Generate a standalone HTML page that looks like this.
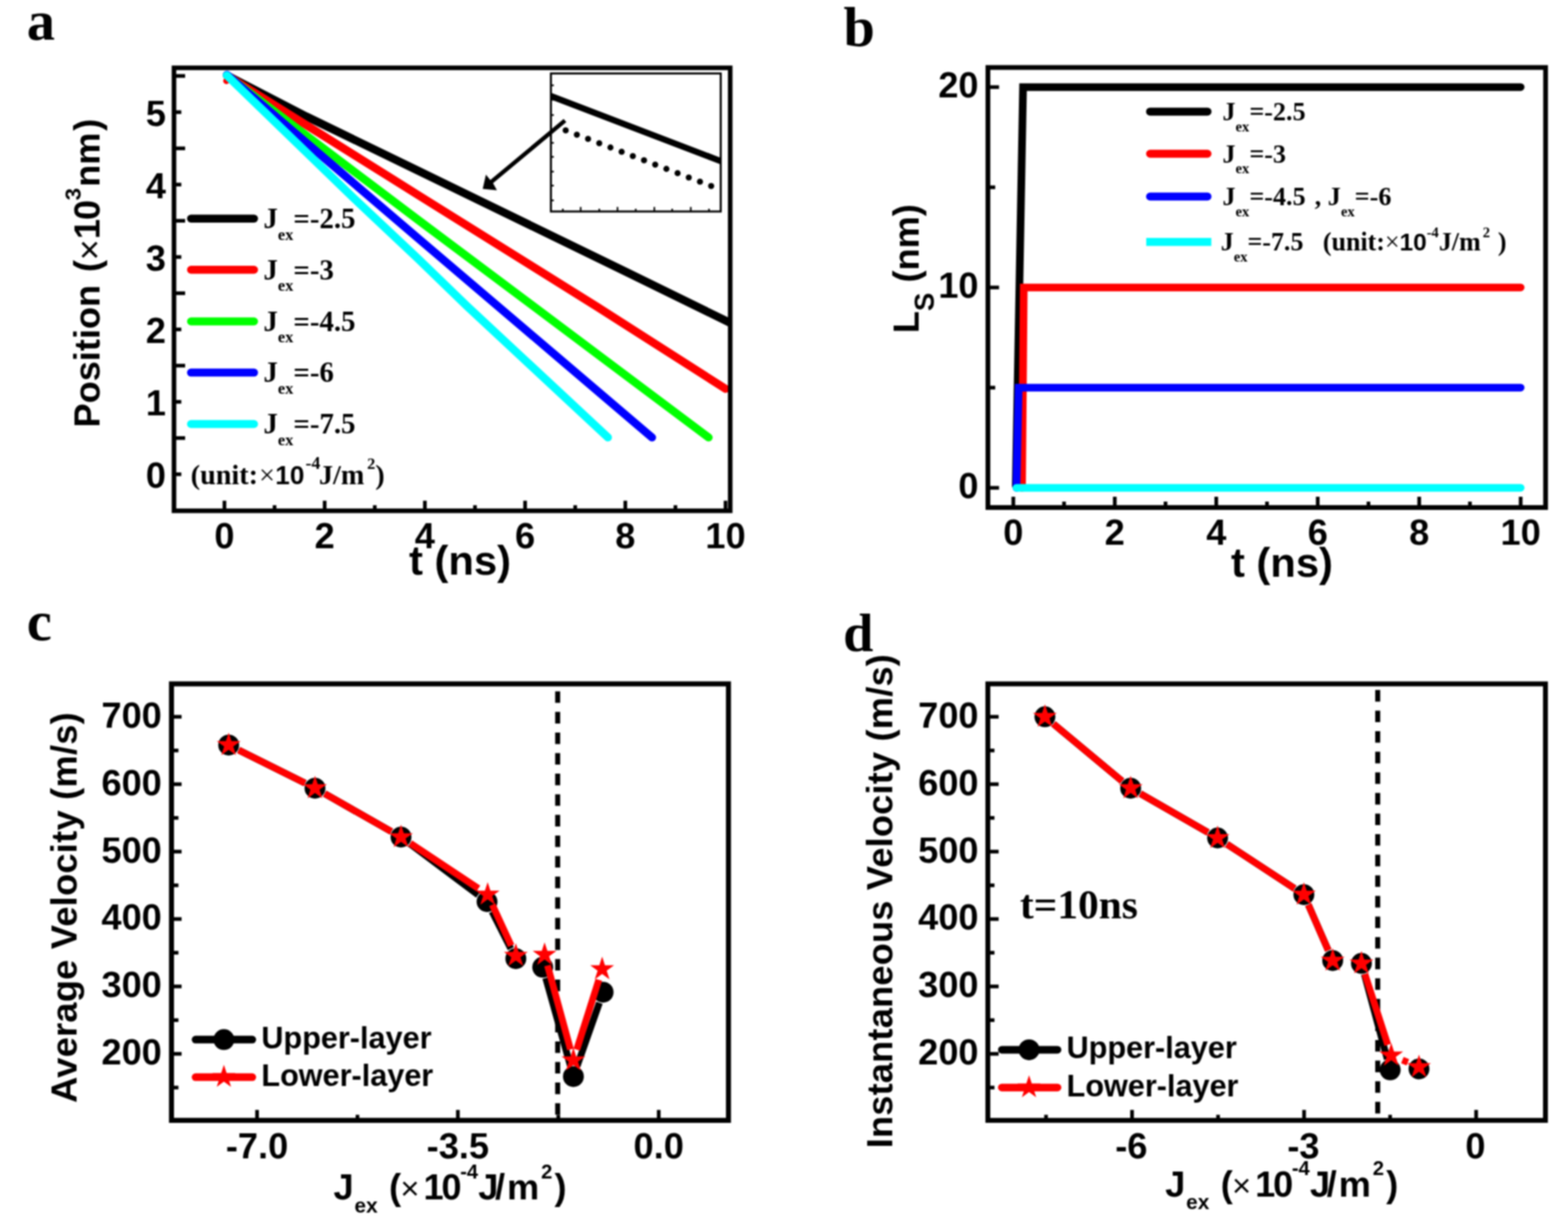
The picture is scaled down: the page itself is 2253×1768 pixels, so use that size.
<!DOCTYPE html>
<html lang="en">
<head>
<meta charset="utf-8">
<title>Figure: domain wall position, skyrmion length and velocity versus exchange coupling</title>
<style>
html, body { margin: 0; padding: 0; background: #fff; }
body { width: 2253px; height: 1768px; overflow: hidden; }
svg { display: block; }
text { font-weight: bold; fill: #000; }
.s { font-family: "Liberation Sans", sans-serif; }
.r { font-family: "Liberation Serif", serif; }
</style>
</head>
<body>
<svg width="2253" height="1768" viewBox="0 0 2253 1768">
<defs><filter id="soft" x="0" y="0" width="100%" height="100%" filterUnits="userSpaceOnUse" color-interpolation-filters="sRGB"><feGaussianBlur stdDeviation="1.0"/></filter></defs>
<rect x="0" y="0" width="2253" height="1768" fill="#fff"/>
<g filter="url(#soft)">
<rect x="0" y="0" width="2253" height="1768" fill="#fff"/>
<g id="panel-a">
<clipPath id="clipA"><rect x="250.0" y="97.5" width="799.2" height="636.7"/></clipPath>
<g clip-path="url(#clipA)">
<circle cx="325.30" cy="116.30" r="4.6" fill="#f00"/>
<polyline points="326.00,108.30 440.00,167.30 600.00,245.00 900.00,391.00 1050.00,464.50" fill="none" stroke="#000" stroke-width="11.6" stroke-linecap="round" stroke-linejoin="round"/>
<polyline points="326.00,108.30 600.00,279.80 858.00,441.00 1042.50,558.90" fill="none" stroke="#f00" stroke-width="11.6" stroke-linecap="round" stroke-linejoin="round"/>
<polyline points="326.00,108.30 600.00,315.50 1018.20,628.80" fill="none" stroke="#0f0" stroke-width="11.6" stroke-linecap="round" stroke-linejoin="round"/>
<polyline points="326.00,107.50 600.00,341.80 936.90,628.80" fill="none" stroke="#00f" stroke-width="11.6" stroke-linecap="round" stroke-linejoin="round"/>
<polyline points="326.00,108.30 507.00,283.60 600.00,371.30 671.00,440.00 873.50,628.80" fill="none" stroke="#0ff" stroke-width="11.6" stroke-linecap="round" stroke-linejoin="round"/>
</g>
<rect x="791.6" y="105.6" width="243.9999999999999" height="198.4" fill="#fff" stroke="#000" stroke-width="2.9"/>
<clipPath id="clipI"><rect x="791.6" y="105.6" width="243.9999999999999" height="198.4"/></clipPath>
<g clip-path="url(#clipI)">
<line x1="786.60" y1="136.20" x2="1040.60" y2="233.50" stroke="#000" stroke-width="9" stroke-linecap="butt" />
</g>
<circle cx="812.80" cy="187.40" r="4.4" fill="#000"/>
<circle cx="828.88" cy="193.55" r="4.4" fill="#000"/>
<circle cx="844.96" cy="199.70" r="4.4" fill="#000"/>
<circle cx="861.04" cy="205.85" r="4.4" fill="#000"/>
<circle cx="877.12" cy="212.00" r="4.4" fill="#000"/>
<circle cx="893.20" cy="218.15" r="4.4" fill="#000"/>
<circle cx="909.28" cy="224.30" r="4.4" fill="#000"/>
<circle cx="925.36" cy="230.45" r="4.4" fill="#000"/>
<circle cx="941.44" cy="236.60" r="4.4" fill="#000"/>
<circle cx="957.52" cy="242.75" r="4.4" fill="#000"/>
<circle cx="973.60" cy="248.90" r="4.4" fill="#000"/>
<circle cx="989.68" cy="255.05" r="4.4" fill="#000"/>
<circle cx="1005.76" cy="261.20" r="4.4" fill="#000"/>
<circle cx="1021.84" cy="267.35" r="4.4" fill="#000"/>
<line x1="808.71" y1="304.00" x2="808.71" y2="300.00" stroke="#000" stroke-width="2.3" stroke-linecap="butt" />
<line x1="834.34" y1="304.00" x2="834.34" y2="297.50" stroke="#000" stroke-width="2.3" stroke-linecap="butt" />
<line x1="861.08" y1="304.00" x2="861.08" y2="300.00" stroke="#000" stroke-width="2.3" stroke-linecap="butt" />
<line x1="887.27" y1="304.00" x2="887.27" y2="297.50" stroke="#000" stroke-width="2.3" stroke-linecap="butt" />
<line x1="913.45" y1="304.00" x2="913.45" y2="300.00" stroke="#000" stroke-width="2.3" stroke-linecap="butt" />
<line x1="940.19" y1="304.00" x2="940.19" y2="297.50" stroke="#000" stroke-width="2.3" stroke-linecap="butt" />
<line x1="965.82" y1="304.00" x2="965.82" y2="300.00" stroke="#000" stroke-width="2.3" stroke-linecap="butt" />
<line x1="992.56" y1="304.00" x2="992.56" y2="297.50" stroke="#000" stroke-width="2.3" stroke-linecap="butt" />
<line x1="1018.74" y1="304.00" x2="1018.74" y2="300.00" stroke="#000" stroke-width="2.3" stroke-linecap="butt" />
<line x1="791.60" y1="122.66" x2="795.80" y2="122.66" stroke="#000" stroke-width="2.3" stroke-linecap="butt" />
<line x1="791.60" y1="143.33" x2="795.80" y2="143.33" stroke="#000" stroke-width="2.3" stroke-linecap="butt" />
<line x1="791.60" y1="165.38" x2="795.80" y2="165.38" stroke="#000" stroke-width="2.3" stroke-linecap="butt" />
<line x1="791.60" y1="186.05" x2="795.80" y2="186.05" stroke="#000" stroke-width="2.3" stroke-linecap="butt" />
<line x1="791.60" y1="205.35" x2="795.80" y2="205.35" stroke="#000" stroke-width="2.3" stroke-linecap="butt" />
<line x1="791.60" y1="225.47" x2="795.80" y2="225.47" stroke="#000" stroke-width="2.3" stroke-linecap="butt" />
<line x1="791.60" y1="246.69" x2="795.80" y2="246.69" stroke="#000" stroke-width="2.3" stroke-linecap="butt" />
<line x1="791.60" y1="266.81" x2="795.80" y2="266.81" stroke="#000" stroke-width="2.3" stroke-linecap="butt" />
<line x1="791.60" y1="288.04" x2="795.80" y2="288.04" stroke="#000" stroke-width="2.3" stroke-linecap="butt" />
<line x1="811.80" y1="173.20" x2="703.50" y2="263.50" stroke="#000" stroke-width="6.0" stroke-linecap="butt" />
<polygon points="693.6,271.6 698.2,251.0 704.5,258.8 708.0,262.5 714.0,273.4" fill="#000"/>
<rect x="250.00" y="97.50" width="799.20" height="636.70" fill="none" stroke="#000" stroke-width="6.6"/>
<line x1="250.00" y1="681.70" x2="260.50" y2="681.70" stroke="#000" stroke-width="5.3" stroke-linecap="butt" />
<line x1="250.00" y1="629.65" x2="266.00" y2="629.65" stroke="#000" stroke-width="5.3" stroke-linecap="butt" />
<line x1="250.00" y1="577.60" x2="260.50" y2="577.60" stroke="#000" stroke-width="5.3" stroke-linecap="butt" />
<line x1="250.00" y1="525.55" x2="266.00" y2="525.55" stroke="#000" stroke-width="5.3" stroke-linecap="butt" />
<line x1="250.00" y1="473.50" x2="260.50" y2="473.50" stroke="#000" stroke-width="5.3" stroke-linecap="butt" />
<line x1="250.00" y1="421.45" x2="266.00" y2="421.45" stroke="#000" stroke-width="5.3" stroke-linecap="butt" />
<line x1="250.00" y1="369.40" x2="260.50" y2="369.40" stroke="#000" stroke-width="5.3" stroke-linecap="butt" />
<line x1="250.00" y1="317.35" x2="266.00" y2="317.35" stroke="#000" stroke-width="5.3" stroke-linecap="butt" />
<line x1="250.00" y1="265.30" x2="260.50" y2="265.30" stroke="#000" stroke-width="5.3" stroke-linecap="butt" />
<line x1="250.00" y1="213.25" x2="266.00" y2="213.25" stroke="#000" stroke-width="5.3" stroke-linecap="butt" />
<line x1="250.00" y1="161.20" x2="260.50" y2="161.20" stroke="#000" stroke-width="5.3" stroke-linecap="butt" />
<line x1="250.00" y1="109.15" x2="266.00" y2="109.15" stroke="#000" stroke-width="5.3" stroke-linecap="butt" />
<line x1="322.50" y1="734.20" x2="322.50" y2="719.70" stroke="#000" stroke-width="5.3" stroke-linecap="butt" />
<line x1="394.50" y1="734.20" x2="394.50" y2="726.20" stroke="#000" stroke-width="5.3" stroke-linecap="butt" />
<line x1="466.50" y1="734.20" x2="466.50" y2="719.70" stroke="#000" stroke-width="5.3" stroke-linecap="butt" />
<line x1="538.50" y1="734.20" x2="538.50" y2="726.20" stroke="#000" stroke-width="5.3" stroke-linecap="butt" />
<line x1="610.50" y1="734.20" x2="610.50" y2="719.70" stroke="#000" stroke-width="5.3" stroke-linecap="butt" />
<line x1="682.50" y1="734.20" x2="682.50" y2="726.20" stroke="#000" stroke-width="5.3" stroke-linecap="butt" />
<line x1="754.50" y1="734.20" x2="754.50" y2="719.70" stroke="#000" stroke-width="5.3" stroke-linecap="butt" />
<line x1="826.50" y1="734.20" x2="826.50" y2="726.20" stroke="#000" stroke-width="5.3" stroke-linecap="butt" />
<line x1="898.50" y1="734.20" x2="898.50" y2="719.70" stroke="#000" stroke-width="5.3" stroke-linecap="butt" />
<line x1="970.50" y1="734.20" x2="970.50" y2="726.20" stroke="#000" stroke-width="5.3" stroke-linecap="butt" />
<line x1="1042.50" y1="734.20" x2="1042.50" y2="719.70" stroke="#000" stroke-width="5.3" stroke-linecap="butt" />
<text class="s" x="238.50" y="701.30" font-size="52" text-anchor="end">0</text>
<text class="s" x="238.50" y="597.20" font-size="52" text-anchor="end">1</text>
<text class="s" x="238.50" y="493.10" font-size="52" text-anchor="end">2</text>
<text class="s" x="238.50" y="389.00" font-size="52" text-anchor="end">3</text>
<text class="s" x="238.50" y="284.90" font-size="52" text-anchor="end">4</text>
<text class="s" x="238.50" y="180.80" font-size="52" text-anchor="end">5</text>
<text class="s" x="322.50" y="787.60" font-size="52" text-anchor="middle">0</text>
<text class="s" x="466.50" y="787.60" font-size="52" text-anchor="middle">2</text>
<text class="s" x="610.50" y="787.60" font-size="52" text-anchor="middle">4</text>
<text class="s" x="754.50" y="787.60" font-size="52" text-anchor="middle">6</text>
<text class="s" x="898.50" y="787.60" font-size="52" text-anchor="middle">8</text>
<text class="s" x="1042.50" y="787.60" font-size="52" text-anchor="middle">10</text>
<text class="s" x="661.00" y="825.80" font-size="60" text-anchor="middle">t (ns)</text>
<text class="s" x="143.30" y="614.50" font-size="52" transform="rotate(-90 143.30 614.50)">Position<tspan dx="4"> (</tspan><tspan font-weight="normal" dy="3" dx="-0.5">×</tspan><tspan dy="-3" letter-spacing="-1.5">10</tspan><tspan font-size="32" dy="-27" dx="1">3</tspan><tspan dy="27" dx="1.5">nm</tspan><tspan dx="2.5">)</tspan></text>
<line x1="274.50" y1="314.20" x2="365.00" y2="314.20" stroke="#000" stroke-width="11.5" stroke-linecap="round" />
<text class="r" x="378.60" y="328.00" font-size="41.5">J<tspan font-size="23.5" dy="16.5">ex</tspan><tspan dy="-16.5">=-2.5</tspan></text>
<line x1="274.50" y1="387.80" x2="365.00" y2="387.80" stroke="#f00" stroke-width="11.5" stroke-linecap="round" />
<text class="r" x="378.60" y="401.60" font-size="41.5">J<tspan font-size="23.5" dy="16.5">ex</tspan><tspan dy="-16.5">=-3</tspan></text>
<line x1="274.50" y1="462.00" x2="365.00" y2="462.00" stroke="#0f0" stroke-width="11.5" stroke-linecap="round" />
<text class="r" x="378.60" y="475.80" font-size="41.5">J<tspan font-size="23.5" dy="16.5">ex</tspan><tspan dy="-16.5">=-4.5</tspan></text>
<line x1="274.50" y1="535.60" x2="365.00" y2="535.60" stroke="#00f" stroke-width="11.5" stroke-linecap="round" />
<text class="r" x="378.60" y="549.40" font-size="41.5">J<tspan font-size="23.5" dy="16.5">ex</tspan><tspan dy="-16.5">=-6</tspan></text>
<line x1="274.50" y1="609.50" x2="365.00" y2="609.50" stroke="#0ff" stroke-width="11.5" stroke-linecap="round" />
<text class="r" x="378.60" y="623.30" font-size="41.5">J<tspan font-size="23.5" dy="16.5">ex</tspan><tspan dy="-16.5">=-7.5</tspan></text>
<text class="r" x="274.00" y="696.30" font-size="40.5">(unit:<tspan font-weight="normal" dx="1.5">×</tspan><tspan class="s" font-size="37.5" dx="0.5">10</tspan><tspan font-size="25.5" dy="-22" dx="1.7">-4</tspan><tspan dy="22" dx="-2">J/m</tspan><tspan font-size="23.5" dy="-22" dx="4">2</tspan><tspan dy="22" dx="0">)</tspan></text>
<text class="r" x="38.50" y="56.50" font-size="81">a</text>
</g>
<g id="panel-b">
<polyline points="1459.50,698.20 1470.00,125.20 2185.00,125.20" fill="none" stroke="#000" stroke-width="11" stroke-linecap="round" stroke-linejoin="miter"/>
<polyline points="1468.50,701.20 1471.00,413.20 2185.00,413.20" fill="none" stroke="#f00" stroke-width="11" stroke-linecap="round" stroke-linejoin="miter"/>
<polyline points="1460.50,701.20 1463.70,557.20 2185.00,557.20" fill="none" stroke="#00f" stroke-width="11" stroke-linecap="round" stroke-linejoin="miter"/>
<polyline points="1460.50,701.20 2185.00,701.20" fill="none" stroke="#0ff" stroke-width="11" stroke-linecap="round" stroke-linejoin="round"/>
<rect x="1419.50" y="97.00" width="801.30" height="632.50" fill="none" stroke="#000" stroke-width="6.8"/>
<line x1="1419.50" y1="701.20" x2="1435.50" y2="701.20" stroke="#000" stroke-width="5.3" stroke-linecap="butt" />
<line x1="1419.50" y1="557.20" x2="1430.00" y2="557.20" stroke="#000" stroke-width="5.3" stroke-linecap="butt" />
<line x1="1419.50" y1="413.20" x2="1435.50" y2="413.20" stroke="#000" stroke-width="5.3" stroke-linecap="butt" />
<line x1="1419.50" y1="269.20" x2="1430.00" y2="269.20" stroke="#000" stroke-width="5.3" stroke-linecap="butt" />
<line x1="1419.50" y1="125.20" x2="1435.50" y2="125.20" stroke="#000" stroke-width="5.3" stroke-linecap="butt" />
<line x1="1456.00" y1="729.50" x2="1456.00" y2="714.00" stroke="#000" stroke-width="5.3" stroke-linecap="butt" />
<line x1="1528.90" y1="729.50" x2="1528.90" y2="721.00" stroke="#000" stroke-width="5.3" stroke-linecap="butt" />
<line x1="1601.80" y1="729.50" x2="1601.80" y2="714.00" stroke="#000" stroke-width="5.3" stroke-linecap="butt" />
<line x1="1674.70" y1="729.50" x2="1674.70" y2="721.00" stroke="#000" stroke-width="5.3" stroke-linecap="butt" />
<line x1="1747.60" y1="729.50" x2="1747.60" y2="714.00" stroke="#000" stroke-width="5.3" stroke-linecap="butt" />
<line x1="1820.50" y1="729.50" x2="1820.50" y2="721.00" stroke="#000" stroke-width="5.3" stroke-linecap="butt" />
<line x1="1893.40" y1="729.50" x2="1893.40" y2="714.00" stroke="#000" stroke-width="5.3" stroke-linecap="butt" />
<line x1="1966.30" y1="729.50" x2="1966.30" y2="721.00" stroke="#000" stroke-width="5.3" stroke-linecap="butt" />
<line x1="2039.20" y1="729.50" x2="2039.20" y2="714.00" stroke="#000" stroke-width="5.3" stroke-linecap="butt" />
<line x1="2112.10" y1="729.50" x2="2112.10" y2="721.00" stroke="#000" stroke-width="5.3" stroke-linecap="butt" />
<line x1="2185.00" y1="729.50" x2="2185.00" y2="714.00" stroke="#000" stroke-width="5.3" stroke-linecap="butt" />
<text class="s" x="1406.00" y="715.80" font-size="52" text-anchor="end">0</text>
<text class="s" x="1406.00" y="427.80" font-size="52" text-anchor="end">10</text>
<text class="s" x="1406.00" y="139.80" font-size="52" text-anchor="end">20</text>
<text class="s" x="1456.00" y="783.40" font-size="52" text-anchor="middle">0</text>
<text class="s" x="1601.80" y="783.40" font-size="52" text-anchor="middle">2</text>
<text class="s" x="1747.60" y="783.40" font-size="52" text-anchor="middle">4</text>
<text class="s" x="1893.40" y="783.40" font-size="52" text-anchor="middle">6</text>
<text class="s" x="2039.20" y="783.40" font-size="52" text-anchor="middle">8</text>
<text class="s" x="2185.00" y="783.40" font-size="52" text-anchor="middle">10</text>
<text class="s" x="1842.00" y="828.60" font-size="60" text-anchor="middle">t (ns)</text>
<text class="s" x="1320.00" y="479.00" font-size="52" transform="rotate(-90 1320.00 479.00)">L<tspan font-size="40" dy="22">S</tspan><tspan dy="-22"> (nm)</tspan></text>
<line x1="1652.50" y1="160.40" x2="1735.00" y2="160.40" stroke="#000" stroke-width="11.5" stroke-linecap="round" />
<line x1="1652.50" y1="221.00" x2="1735.00" y2="221.00" stroke="#f00" stroke-width="11.5" stroke-linecap="round" />
<line x1="1652.50" y1="282.50" x2="1735.00" y2="282.50" stroke="#00f" stroke-width="11.5" stroke-linecap="round" />
<line x1="1647.00" y1="347.80" x2="1740.50" y2="347.80" stroke="#0ff" stroke-width="11.5" stroke-linecap="butt" />
<text class="r" x="1756.50" y="173.00" font-size="37.6">J<tspan font-size="21" dy="15.5">ex</tspan><tspan dy="-15.5">=-2.5</tspan></text>
<text class="r" x="1756.50" y="233.60" font-size="37.6">J<tspan font-size="21" dy="15.5">ex</tspan><tspan dy="-15.5">=-3</tspan></text>
<text class="r" x="1756.50" y="295.10" font-size="37.6">J<tspan font-size="21" dy="15.5">ex</tspan><tspan dy="-15.5">=-4.5</tspan><tspan dx="13">,</tspan><tspan dx="0"> </tspan>J<tspan font-size="21" dy="15.5">ex</tspan><tspan dy="-15.5">=-6</tspan></text>
<text class="r" x="1754.00" y="360.40" font-size="37.3">J<tspan font-size="21" dy="15.5">ex</tspan><tspan dy="-15.5">=-7.5</tspan><tspan dx="28">(unit:</tspan><tspan font-weight="normal">×</tspan><tspan class="s" font-size="35">10</tspan><tspan font-size="21" dy="-19">-4</tspan><tspan dy="19">J/m</tspan><tspan font-size="21" dy="-19" dx="3">2</tspan><tspan dy="19" dx="2"> )</tspan></text>
<text class="r" x="1212.00" y="66.20" font-size="81">b</text>
</g>
<g id="panel-c">
<line x1="801.3" y1="993.7" x2="801.3" y2="1610.4" stroke="#000" stroke-width="7.2" stroke-dasharray="16.6 13"/>
<line x1="342.91" y1="1078.06" x2="438.29" y2="1125.74" stroke="#000" stroke-width="9.8" stroke-linecap="butt" />
<line x1="466.51" y1="1140.81" x2="562.29" y2="1195.29" stroke="#000" stroke-width="9.8" stroke-linecap="butt" />
<line x1="589.00" y1="1212.81" x2="687.00" y2="1286.39" stroke="#000" stroke-width="9.8" stroke-linecap="butt" />
<line x1="707.02" y1="1310.28" x2="733.98" y2="1363.62" stroke="#000" stroke-width="9.8" stroke-linecap="butt" />
<line x1="784.12" y1="1405.70" x2="819.58" y2="1532.00" stroke="#000" stroke-width="9.8" stroke-linecap="butt" />
<line x1="829.22" y1="1532.31" x2="861.28" y2="1441.29" stroke="#000" stroke-width="9.8" stroke-linecap="butt" />
<circle cx="328.60" cy="1070.90" r="15" fill="#000"/>
<circle cx="452.60" cy="1132.90" r="15" fill="#000"/>
<circle cx="576.20" cy="1203.20" r="15" fill="#000"/>
<circle cx="699.80" cy="1296.00" r="15" fill="#000"/>
<circle cx="741.20" cy="1377.90" r="15" fill="#000"/>
<circle cx="779.80" cy="1390.30" r="15" fill="#000"/>
<circle cx="823.90" cy="1547.40" r="15" fill="#000"/>
<circle cx="866.60" cy="1426.20" r="15" fill="#000"/>
<line x1="342.91" y1="1078.06" x2="438.29" y2="1125.74" stroke="#f00" stroke-width="9.8" stroke-linecap="butt" />
<line x1="466.51" y1="1140.81" x2="562.29" y2="1195.29" stroke="#f00" stroke-width="9.8" stroke-linecap="butt" />
<line x1="589.53" y1="1212.05" x2="687.37" y2="1277.05" stroke="#f00" stroke-width="9.8" stroke-linecap="butt" />
<line x1="707.40" y1="1300.43" x2="734.50" y2="1359.27" stroke="#f00" stroke-width="9.8" stroke-linecap="butt" />
<line x1="786.72" y1="1387.83" x2="819.68" y2="1508.57" stroke="#f00" stroke-width="9.8" stroke-linecap="butt" />
<line x1="828.71" y1="1508.74" x2="860.39" y2="1408.36" stroke="#f00" stroke-width="9.8" stroke-linecap="butt" />
<polygon points="328.60,1052.90 332.64,1065.34 345.72,1065.34 335.14,1073.02 339.18,1085.46 328.60,1077.78 318.02,1085.46 322.06,1073.02 311.48,1065.34 324.56,1065.34" fill="#f00"/>
<polygon points="452.60,1114.90 456.64,1127.34 469.72,1127.34 459.14,1135.02 463.18,1147.46 452.60,1139.78 442.02,1147.46 446.06,1135.02 435.48,1127.34 448.56,1127.34" fill="#f00"/>
<polygon points="576.20,1185.20 580.24,1197.64 593.32,1197.64 582.74,1205.32 586.78,1217.76 576.20,1210.08 565.62,1217.76 569.66,1205.32 559.08,1197.64 572.16,1197.64" fill="#f00"/>
<polygon points="700.70,1267.90 704.74,1280.34 717.82,1280.34 707.24,1288.02 711.28,1300.46 700.70,1292.78 690.12,1300.46 694.16,1288.02 683.58,1280.34 696.66,1280.34" fill="#f00"/>
<polygon points="741.20,1355.80 745.24,1368.24 758.32,1368.24 747.74,1375.92 751.78,1388.36 741.20,1380.68 730.62,1388.36 734.66,1375.92 724.08,1368.24 737.16,1368.24" fill="#f00"/>
<polygon points="782.50,1354.40 786.54,1366.84 799.62,1366.84 789.04,1374.52 793.08,1386.96 782.50,1379.28 771.92,1386.96 775.96,1374.52 765.38,1366.84 778.46,1366.84" fill="#f00"/>
<polygon points="823.90,1506.00 827.94,1518.44 841.02,1518.44 830.44,1526.12 834.48,1538.56 823.90,1530.88 813.32,1538.56 817.36,1526.12 806.78,1518.44 819.86,1518.44" fill="#f00"/>
<polygon points="865.20,1375.10 869.24,1387.54 882.32,1387.54 871.74,1395.22 875.78,1407.66 865.20,1399.98 854.62,1407.66 858.66,1395.22 848.08,1387.54 861.16,1387.54" fill="#f00"/>
<rect x="246.40" y="983.00" width="800.30" height="627.40" fill="none" stroke="#000" stroke-width="7.2"/>
<line x1="246.40" y1="1563.25" x2="256.40" y2="1563.25" stroke="#000" stroke-width="5.3" stroke-linecap="butt" />
<line x1="246.40" y1="1514.80" x2="260.90" y2="1514.80" stroke="#000" stroke-width="5.3" stroke-linecap="butt" />
<line x1="246.40" y1="1466.35" x2="256.40" y2="1466.35" stroke="#000" stroke-width="5.3" stroke-linecap="butt" />
<line x1="246.40" y1="1417.90" x2="260.90" y2="1417.90" stroke="#000" stroke-width="5.3" stroke-linecap="butt" />
<line x1="246.40" y1="1369.45" x2="256.40" y2="1369.45" stroke="#000" stroke-width="5.3" stroke-linecap="butt" />
<line x1="246.40" y1="1321.00" x2="260.90" y2="1321.00" stroke="#000" stroke-width="5.3" stroke-linecap="butt" />
<line x1="246.40" y1="1272.55" x2="256.40" y2="1272.55" stroke="#000" stroke-width="5.3" stroke-linecap="butt" />
<line x1="246.40" y1="1224.10" x2="260.90" y2="1224.10" stroke="#000" stroke-width="5.3" stroke-linecap="butt" />
<line x1="246.40" y1="1175.65" x2="256.40" y2="1175.65" stroke="#000" stroke-width="5.3" stroke-linecap="butt" />
<line x1="246.40" y1="1127.20" x2="260.90" y2="1127.20" stroke="#000" stroke-width="5.3" stroke-linecap="butt" />
<line x1="246.40" y1="1078.75" x2="256.40" y2="1078.75" stroke="#000" stroke-width="5.3" stroke-linecap="butt" />
<line x1="246.40" y1="1030.30" x2="260.90" y2="1030.30" stroke="#000" stroke-width="5.3" stroke-linecap="butt" />
<line x1="369.35" y1="1610.40" x2="369.35" y2="1595.40" stroke="#000" stroke-width="5.3" stroke-linecap="butt" />
<line x1="513.64" y1="1610.40" x2="513.64" y2="1602.40" stroke="#000" stroke-width="5.3" stroke-linecap="butt" />
<line x1="657.92" y1="1610.40" x2="657.92" y2="1595.40" stroke="#000" stroke-width="5.3" stroke-linecap="butt" />
<line x1="802.21" y1="1610.40" x2="802.21" y2="1602.40" stroke="#000" stroke-width="5.3" stroke-linecap="butt" />
<line x1="946.50" y1="1610.40" x2="946.50" y2="1595.40" stroke="#000" stroke-width="5.3" stroke-linecap="butt" />
<text class="s" x="232.50" y="1530.20" font-size="52" text-anchor="end">200</text>
<text class="s" x="232.50" y="1433.30" font-size="52" text-anchor="end">300</text>
<text class="s" x="232.50" y="1336.40" font-size="52" text-anchor="end">400</text>
<text class="s" x="232.50" y="1239.50" font-size="52" text-anchor="end">500</text>
<text class="s" x="232.50" y="1142.60" font-size="52" text-anchor="end">600</text>
<text class="s" x="232.50" y="1045.70" font-size="52" text-anchor="end">700</text>
<text class="s" x="369.35" y="1665.00" font-size="52" text-anchor="middle">-7.0</text>
<text class="s" x="657.92" y="1665.00" font-size="52" text-anchor="middle">-3.5</text>
<text class="s" x="946.50" y="1665.00" font-size="52" text-anchor="middle">0.0</text>
<text class="s" x="110.30" y="1304.30" font-size="52" text-anchor="middle" transform="rotate(-90 110.30 1304.30)" letter-spacing="0.4">Average Velocity (m/s)</text>
<text class="s" x="479.20" y="1724.30" font-size="52"><tspan x="479.20" y="1724.30" font-size="52">J</tspan><tspan x="509.30" y="1742.60" font-size="30">ex</tspan><tspan x="559.10" y="1724.30" font-size="52">(</tspan><tspan x="575.20" y="1724.30" font-size="47" font-weight="normal">×</tspan><tspan x="608.40" y="1724.30" font-size="52" letter-spacing="-3">10</tspan><tspan x="661.20" y="1693.80" font-size="29">-4</tspan><tspan x="687.20" y="1724.30" font-size="52">J</tspan><tspan x="711.30" y="1724.30" font-size="52">/</tspan><tspan x="728.60" y="1724.30" font-size="52">m</tspan><tspan x="777.40" y="1693.80" font-size="29">2</tspan><tspan x="796.80" y="1724.30" font-size="52">)</tspan></text>
<line x1="281.00" y1="1494.30" x2="362.50" y2="1494.30" stroke="#000" stroke-width="11" stroke-linecap="round" />
<circle cx="321.70" cy="1494.30" r="15" fill="#000"/>
<line x1="281.00" y1="1548.30" x2="362.50" y2="1548.30" stroke="#f00" stroke-width="11" stroke-linecap="round" />
<polygon points="321.70,1530.50 325.63,1542.59 338.34,1542.59 328.06,1550.07 331.99,1562.16 321.70,1554.68 311.41,1562.16 315.34,1550.07 305.06,1542.59 317.77,1542.59" fill="#f00"/>
<text class="s" x="375.50" y="1506.60" font-size="44">Upper-layer</text>
<text class="s" x="375.50" y="1560.80" font-size="44">Lower-layer</text>
<text class="r" x="38.50" y="920.40" font-size="81">c</text>
</g>
<g id="panel-d">
<line x1="1979.6" y1="991.8" x2="1979.6" y2="1610.4" stroke="#000" stroke-width="7.2" stroke-dasharray="16.6 13"/>
<line x1="1513.69" y1="1040.54" x2="1612.31" y2="1122.66" stroke="#000" stroke-width="9.8" stroke-linecap="butt" />
<line x1="1638.48" y1="1140.86" x2="1735.62" y2="1196.54" stroke="#000" stroke-width="9.8" stroke-linecap="butt" />
<line x1="1762.88" y1="1213.28" x2="1860.12" y2="1277.12" stroke="#000" stroke-width="9.8" stroke-linecap="butt" />
<line x1="1879.90" y1="1300.56" x2="1908.50" y2="1366.04" stroke="#000" stroke-width="9.8" stroke-linecap="butt" />
<line x1="1960.37" y1="1400.25" x2="1993.33" y2="1522.35" stroke="#000" stroke-width="9.8" stroke-linecap="butt" />
<circle cx="1501.40" cy="1030.30" r="15" fill="#000"/>
<circle cx="1624.60" cy="1132.90" r="15" fill="#000"/>
<circle cx="1749.50" cy="1204.50" r="15" fill="#000"/>
<circle cx="1873.50" cy="1285.90" r="15" fill="#000"/>
<circle cx="1914.90" cy="1380.70" r="15" fill="#000"/>
<circle cx="1956.20" cy="1384.80" r="15" fill="#000"/>
<circle cx="1997.50" cy="1537.80" r="15" fill="#000"/>
<circle cx="2038.90" cy="1536.40" r="15" fill="#000"/>
<line x1="1513.69" y1="1040.54" x2="1612.31" y2="1122.66" stroke="#f00" stroke-width="9.8" stroke-linecap="butt" />
<line x1="1638.48" y1="1140.86" x2="1735.62" y2="1196.54" stroke="#f00" stroke-width="9.8" stroke-linecap="butt" />
<line x1="1762.88" y1="1213.28" x2="1860.12" y2="1277.12" stroke="#f00" stroke-width="9.8" stroke-linecap="butt" />
<line x1="1879.90" y1="1300.56" x2="1908.50" y2="1366.04" stroke="#f00" stroke-width="9.8" stroke-linecap="butt" />
<line x1="1961.12" y1="1400.02" x2="1994.08" y2="1501.88" stroke="#f00" stroke-width="9.8" stroke-linecap="butt" />
<line x1="2015.03" y1="1523.77" x2="2022.87" y2="1527.03" stroke="#f00" stroke-width="9.8" stroke-linecap="butt" />
<polygon points="1501.40,1012.30 1505.44,1024.74 1518.52,1024.74 1507.94,1032.42 1511.98,1044.86 1501.40,1037.18 1490.82,1044.86 1494.86,1032.42 1484.28,1024.74 1497.36,1024.74" fill="#f00"/>
<polygon points="1624.60,1114.90 1628.64,1127.34 1641.72,1127.34 1631.14,1135.02 1635.18,1147.46 1624.60,1139.78 1614.02,1147.46 1618.06,1135.02 1607.48,1127.34 1620.56,1127.34" fill="#f00"/>
<polygon points="1749.50,1186.50 1753.54,1198.94 1766.62,1198.94 1756.04,1206.62 1760.08,1219.06 1749.50,1211.38 1738.92,1219.06 1742.96,1206.62 1732.38,1198.94 1745.46,1198.94" fill="#f00"/>
<polygon points="1873.50,1267.90 1877.54,1280.34 1890.62,1280.34 1880.04,1288.02 1884.08,1300.46 1873.50,1292.78 1862.92,1300.46 1866.96,1288.02 1856.38,1280.34 1869.46,1280.34" fill="#f00"/>
<polygon points="1914.90,1362.70 1918.94,1375.14 1932.02,1375.14 1921.44,1382.82 1925.48,1395.26 1914.90,1387.58 1904.32,1395.26 1908.36,1382.82 1897.78,1375.14 1910.86,1375.14" fill="#f00"/>
<polygon points="1956.20,1366.80 1960.24,1379.24 1973.32,1379.24 1962.74,1386.92 1966.78,1399.36 1956.20,1391.68 1945.62,1399.36 1949.66,1386.92 1939.08,1379.24 1952.16,1379.24" fill="#f00"/>
<polygon points="1999.00,1499.10 2003.04,1511.54 2016.12,1511.54 2005.54,1519.22 2009.58,1531.66 1999.00,1523.98 1988.42,1531.66 1992.46,1519.22 1981.88,1511.54 1994.96,1511.54" fill="#f00"/>
<polygon points="2038.90,1515.70 2042.94,1528.14 2056.02,1528.14 2045.44,1535.82 2049.48,1548.26 2038.90,1540.58 2028.32,1548.26 2032.36,1535.82 2021.78,1528.14 2034.86,1528.14" fill="#f00"/>
<rect x="1419.40" y="983.00" width="801.20" height="627.40" fill="none" stroke="#000" stroke-width="7.0"/>
<line x1="1419.40" y1="1563.25" x2="1428.90" y2="1563.25" stroke="#000" stroke-width="5.3" stroke-linecap="butt" />
<line x1="1419.40" y1="1514.80" x2="1434.90" y2="1514.80" stroke="#000" stroke-width="5.3" stroke-linecap="butt" />
<line x1="1419.40" y1="1466.35" x2="1428.90" y2="1466.35" stroke="#000" stroke-width="5.3" stroke-linecap="butt" />
<line x1="1419.40" y1="1417.90" x2="1434.90" y2="1417.90" stroke="#000" stroke-width="5.3" stroke-linecap="butt" />
<line x1="1419.40" y1="1369.45" x2="1428.90" y2="1369.45" stroke="#000" stroke-width="5.3" stroke-linecap="butt" />
<line x1="1419.40" y1="1321.00" x2="1434.90" y2="1321.00" stroke="#000" stroke-width="5.3" stroke-linecap="butt" />
<line x1="1419.40" y1="1272.55" x2="1428.90" y2="1272.55" stroke="#000" stroke-width="5.3" stroke-linecap="butt" />
<line x1="1419.40" y1="1224.10" x2="1434.90" y2="1224.10" stroke="#000" stroke-width="5.3" stroke-linecap="butt" />
<line x1="1419.40" y1="1175.65" x2="1428.90" y2="1175.65" stroke="#000" stroke-width="5.3" stroke-linecap="butt" />
<line x1="1419.40" y1="1127.20" x2="1434.90" y2="1127.20" stroke="#000" stroke-width="5.3" stroke-linecap="butt" />
<line x1="1419.40" y1="1078.75" x2="1428.90" y2="1078.75" stroke="#000" stroke-width="5.3" stroke-linecap="butt" />
<line x1="1419.40" y1="1030.30" x2="1434.90" y2="1030.30" stroke="#000" stroke-width="5.3" stroke-linecap="butt" />
<line x1="1503.00" y1="1610.40" x2="1503.00" y2="1602.40" stroke="#000" stroke-width="5.3" stroke-linecap="butt" />
<line x1="1626.60" y1="1610.40" x2="1626.60" y2="1595.40" stroke="#000" stroke-width="5.3" stroke-linecap="butt" />
<line x1="1750.20" y1="1610.40" x2="1750.20" y2="1602.40" stroke="#000" stroke-width="5.3" stroke-linecap="butt" />
<line x1="1873.80" y1="1610.40" x2="1873.80" y2="1595.40" stroke="#000" stroke-width="5.3" stroke-linecap="butt" />
<line x1="1997.40" y1="1610.40" x2="1997.40" y2="1602.40" stroke="#000" stroke-width="5.3" stroke-linecap="butt" />
<line x1="2121.00" y1="1610.40" x2="2121.00" y2="1595.40" stroke="#000" stroke-width="5.3" stroke-linecap="butt" />
<text class="s" x="1406.00" y="1530.20" font-size="52" text-anchor="end">200</text>
<text class="s" x="1406.00" y="1433.30" font-size="52" text-anchor="end">300</text>
<text class="s" x="1406.00" y="1336.40" font-size="52" text-anchor="end">400</text>
<text class="s" x="1406.00" y="1239.50" font-size="52" text-anchor="end">500</text>
<text class="s" x="1406.00" y="1142.60" font-size="52" text-anchor="end">600</text>
<text class="s" x="1406.00" y="1045.70" font-size="52" text-anchor="end">700</text>
<text class="s" x="1625.60" y="1665.00" font-size="52" text-anchor="middle">-6</text>
<text class="s" x="1872.80" y="1665.00" font-size="52" text-anchor="middle">-3</text>
<text class="s" x="2120.00" y="1665.00" font-size="52" text-anchor="middle">0</text>
<text class="s" x="1282.30" y="1295.30" font-size="52" text-anchor="middle" transform="rotate(-90 1282.30 1295.30)" letter-spacing="0.3">Instantaneous Velocity (m/s)</text>
<text class="s" x="1674.20" y="1719.90" font-size="52"><tspan x="1674.20" y="1719.90" font-size="52">J</tspan><tspan x="1704.30" y="1738.20" font-size="30">ex</tspan><tspan x="1754.10" y="1719.90" font-size="52">(</tspan><tspan x="1770.20" y="1719.90" font-size="47" font-weight="normal">×</tspan><tspan x="1803.40" y="1719.90" font-size="52" letter-spacing="-3">10</tspan><tspan x="1856.20" y="1689.40" font-size="29">-4</tspan><tspan x="1882.20" y="1719.90" font-size="52">J</tspan><tspan x="1906.30" y="1719.90" font-size="52">/</tspan><tspan x="1923.60" y="1719.90" font-size="52">m</tspan><tspan x="1972.40" y="1689.40" font-size="29">2</tspan><tspan x="1991.80" y="1719.90" font-size="52">)</tspan></text>
<line x1="1439.50" y1="1508.90" x2="1519.50" y2="1508.90" stroke="#000" stroke-width="11" stroke-linecap="round" />
<circle cx="1478.60" cy="1508.90" r="15" fill="#000"/>
<line x1="1439.50" y1="1563.20" x2="1519.50" y2="1563.20" stroke="#f00" stroke-width="11" stroke-linecap="round" />
<polygon points="1478.60,1545.50 1482.53,1557.59 1495.24,1557.59 1484.96,1565.07 1488.89,1577.16 1478.60,1569.68 1468.31,1577.16 1472.24,1565.07 1461.96,1557.59 1474.67,1557.59" fill="#f00"/>
<text class="s" x="1532.50" y="1521.20" font-size="44">Upper-layer</text>
<text class="s" x="1532.50" y="1575.70" font-size="44">Lower-layer</text>
<text class="r" x="1465.50" y="1320.30" font-size="59.5">t=10ns</text>
<text class="r" x="1211.50" y="935.80" font-size="78">d</text>
</g>
</g>
</svg>
</body>
</html>
